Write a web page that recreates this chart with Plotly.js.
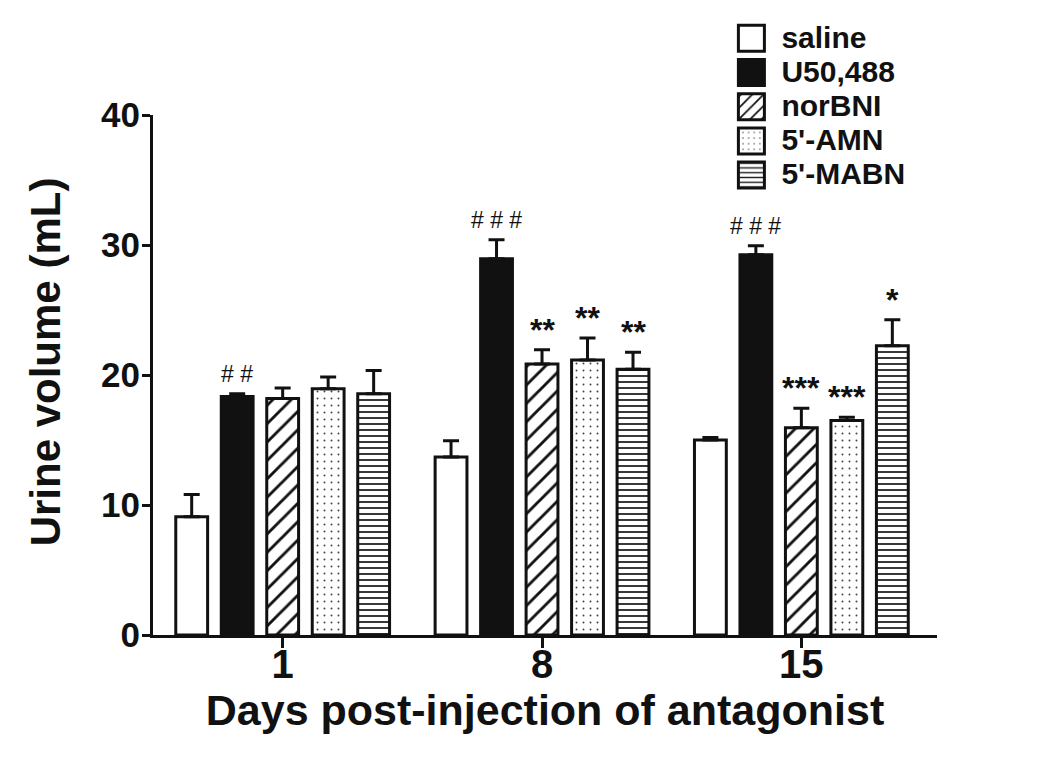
<!DOCTYPE html>
<html>
<head>
<meta charset="utf-8">
<script src="https://cdn.plot.ly/plotly-3.0.1.min.js"></script>
<style>html,body{margin:0;padding:0;background:#fff;}#chart{width:1050px;height:764px;}</style>
</head>
<body>
<div id="chart"></div>
<script>
// ---- data ----
var days = ["1", "8", "15"];
var seriesNames = ["saline", "U50,488", "norBNI", "5'-AMN", "5'-MABN"];
var saline   = [9.1, 13.7, 15.0];
var u50488   = [18.35, 28.95, 29.25];
var norBNI   = [18.2, 20.85, 15.95];
var amn      = [18.95, 21.15, 16.5];
var mabn     = [18.55, 20.45, 22.25];
var salineErr = [1.7, 1.25, 0.2];
var u50488Err = [0.2, 1.45, 0.7];
var norBNIErr = [0.8, 1.1, 1.5];
var amnErr    = [0.9, 1.7, 0.25];
var mabnErr   = [1.8, 1.3, 2.0];
// significance marks: [series index, day index, text]
var sigSeries = [1, 1, 1, 2, 3, 4, 2, 3, 4];
var sigDay    = [0, 1, 2, 1, 1, 1, 2, 2, 2];
var sigText   = ["# #", "# # #", "# # #", "**", "**", "**", "***", "***", "*"];

var values = [saline, u50488, norBNI, amn, mabn];
var errs = [salineErr, u50488Err, norBNIErr, amnErr, mabnErr];

var FONT = "Arial, 'Liberation Sans', Helvetica, sans-serif";
var styles = [
  {color: "#ffffff", pattern: {shape: ""}},
  {color: "#111111", pattern: {shape: ""}},
  {color: "#ffffff", pattern: {shape: "/", size: 13, solidity: 0.22, fgcolor: "#111", bgcolor: "#fff", fillmode: "replace"}},
  {color: "#ffffff", pattern: {shape: ".", size: 7, solidity: 0.06, fgcolor: "#444", bgcolor: "#fff", fillmode: "replace"}},
  {color: "#ffffff", pattern: {shape: "-", size: 6, solidity: 0.3, fgcolor: "#222", bgcolor: "#fff", fillmode: "replace"}}
];

var traces = seriesNames.map(function (name, i) {
  return {
    type: "bar",
    name: name,
    x: days,
    y: values[i],
    marker: {color: styles[i].color, pattern: styles[i].pattern, line: {color: "#111", width: 3}},
    error_y: {type: "data", array: errs[i], symmetric: false, arrayminus: [0, 0, 0], color: "#111", thickness: 3, width: 8},
    hoverinfo: "skip"
  };
});

var bargap = 0.123;
var slot = (1 - bargap) / seriesNames.length;
var annotations = sigText.map(function (t, k) {
  var s = sigSeries[k], d = sigDay[k];
  var isHash = t.indexOf("#") >= 0;
  return {
    xref: "x", yref: "y",
    x: d + (s - (seriesNames.length - 1) / 2) * slot,
    y: values[s][d] + errs[s][d],
    text: t, showarrow: false, yanchor: "bottom",
    yshift: isHash ? 5 : 0,
    font: {family: FONT, size: isHash ? 23 : 32, color: "#111", weight: isHash ? "normal" : "bold"}
  };
});

var layout = {
  width: 1050, height: 764,
  margin: {l: 153, r: 113, t: 115, b: 129, pad: 0},
  paper_bgcolor: "#fff", plot_bgcolor: "#fff",
  font: {family: FONT, color: "#111"},
  barmode: "group", bargap: bargap, bargroupgap: 0.3,
  showlegend: true,
  legend: {
    x: 0.725, xanchor: "left", y: 1.19, yanchor: "top",
    font: {family: FONT, size: 24, weight: "bold", color: "#111"},
    tracegroupgap: 0, itemwidth: 50, bgcolor: "rgba(0,0,0,0)"
  },
  xaxis: {
    type: "category", range: [-0.5, 2.523],
    showline: true, linewidth: 3, linecolor: "#111",
    ticks: "outside", ticklen: 10, tickwidth: 3, tickcolor: "#111",
    ticklabelstandoff: -18,
    tickfont: {family: FONT, size: 40, weight: "bold", color: "#111"},
    showgrid: false, zeroline: false,
    title: {text: "Days post-injection of antagonist", font: {family: FONT, size: 43, weight: "bold", color: "#111"}, standoff: 6}
  },
  yaxis: {
    range: [0, 40], tickvals: [0, 10, 20, 30, 40],
    showline: true, linewidth: 3, linecolor: "#111",
    ticks: "outside", ticklen: 8, tickwidth: 3, tickcolor: "#111",
    ticklabelstandoff: -5,
    tickfont: {family: FONT, size: 35, weight: "bold", color: "#111"},
    showgrid: false, zeroline: false,
    title: {text: "Urine volume (mL)", font: {family: FONT, size: 42, weight: "bold", color: "#111"}, standoff: 28}
  },
  annotations: annotations
};

Plotly.newPlot("chart", traces, layout, {displayModeBar: false, staticPlot: true}).then(function (gd) {
  // enlarge legend swatches and labels to match the reference's large legend
  gd.querySelectorAll(".legend .legendpoints path").forEach(function (p) {
    p.setAttribute("d", "M13,13H-13V-13H13Z");
  });
  gd.querySelectorAll(".legend text.legendtext").forEach(function (t) {
    t.style.fontSize = "30px";
  });
  gd.querySelectorAll(".legend .scrollbox").forEach(function (g) {
    g.removeAttribute("clip-path");
  });
  var yt = gd.querySelector(".ytitle");
  if (yt) {
    yt.setAttribute("transform", "translate(0,-13) " + (yt.getAttribute("transform") || ""));
  }
});
</script>
</body>
</html>
